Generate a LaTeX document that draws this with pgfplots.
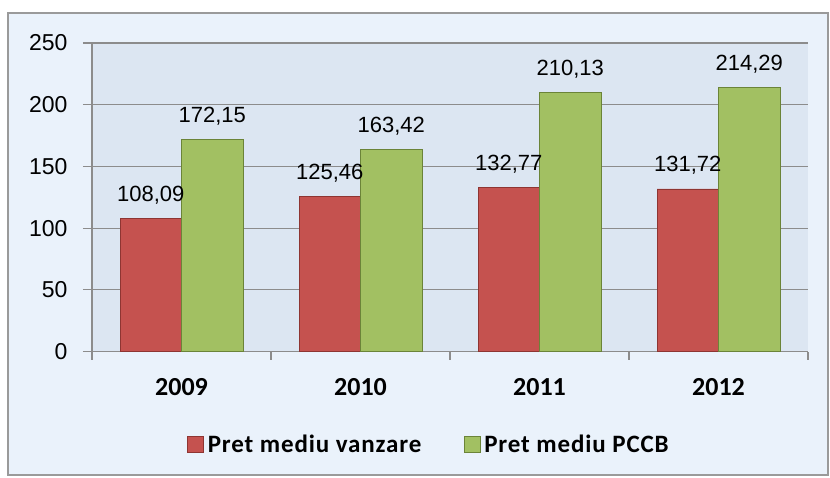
\documentclass[border=0pt]{standalone}
\usepackage{fontspec}
\setmainfont{Liberation Sans}
\newfontfamily\calibri{Carlito}
\newfontfamily\calibriwide[LetterSpace=3.5]{Carlito}
\usepackage{pgfplots}
\pgfplotsset{compat=1.18}
\definecolor{frameBg}{HTML}{EAF2FB}
\definecolor{frameLine}{HTML}{9A9A9A}
\definecolor{plotBg}{HTML}{DCE6F2}
\definecolor{gridc}{HTML}{8C8C8C}
\definecolor{redM}{HTML}{C5524F}
\definecolor{redD}{HTML}{8E3532}
\definecolor{greenM}{HTML}{A2C062}
\definecolor{greenD}{HTML}{6B8438}
\begin{document}
\begin{tikzpicture}[x=1pt,y=1pt]
\useasboundingbox (0,0) rectangle (830,-478);
\fill[frameBg] (8,-13) rectangle (828,-475);
\draw[frameLine, line width=2pt] (8,-13) rectangle (828,-475);
\begin{axis}[
  at={(92pt,-351.5pt)}, anchor=south west,
  scale only axis, width=716pt, height=308.5pt,
  xmin=-0.5, xmax=3.5, ymin=0, ymax=250,
  ybar=0pt, bar width=61.5pt,
  axis background/.style={fill=plotBg},
  axis x line*=bottom, axis y line*=left,
  axis line style={gridc, line width=1.2pt},
  xtick={0,1,2,3}, xticklabels={2009,2010,2011,2012},
  major x tick style={draw=none},
  minor xtick={-0.5,0.5,1.5,2.5,3.5},
  minor x tick style={gridc, line width=1.2pt},
  minor tick length=8pt,
  ytick={0,50,100,150,200,250},
  y tick style={gridc, line width=1.2pt},
  major tick length=9pt,
  tick align=outside,
  ymajorgrids, grid style={gridc, line width=1.2pt},
  /pgf/number format/assume math mode=true,
  yticklabel style={font=\fontsize{23}{23}\selectfont, xshift=-12pt},
  xticklabel style={font=\calibri\bfseries\fontsize{26}{26}\selectfont, anchor=base, yshift=-35pt},
  nodes near coords={\pgfmathprintnumber[use comma, fixed, fixed zerofill, precision=2]{\pgfplotspointmeta}},
  every node near coord/.append style={font=\fontsize{22}{22}\selectfont, anchor=base, yshift=17pt, inner sep=0pt, text=black},
  legend style={at={(0.1327,-0.30)}, anchor=west, draw=none, fill=none,
    inner sep=0pt, outer sep=0pt,
    font=\calibriwide\bfseries\fontsize{25}{25}\selectfont, legend columns=2,
    /tikz/every odd column/.append style={column sep=2pt},
    /tikz/every even column/.append style={column sep=40pt}},
  legend image code/.code={\path[#1] (0pt,-8pt) rectangle (16pt,8pt);},
  clip=false,
]
\addplot[draw=redD, line width=0.8pt, fill=redM] coordinates {(0,108.09) (1,125.46) (2,132.77) (3,131.72)};
\addlegendentry{Pret mediu vanzare}
\addplot[draw=greenD, line width=0.8pt, fill=greenM] coordinates {(0,172.15) (1,163.42) (2,210.13) (3,214.29)};
\addlegendentry{Pret mediu PCCB}
\end{axis}
\end{tikzpicture}
\end{document}
